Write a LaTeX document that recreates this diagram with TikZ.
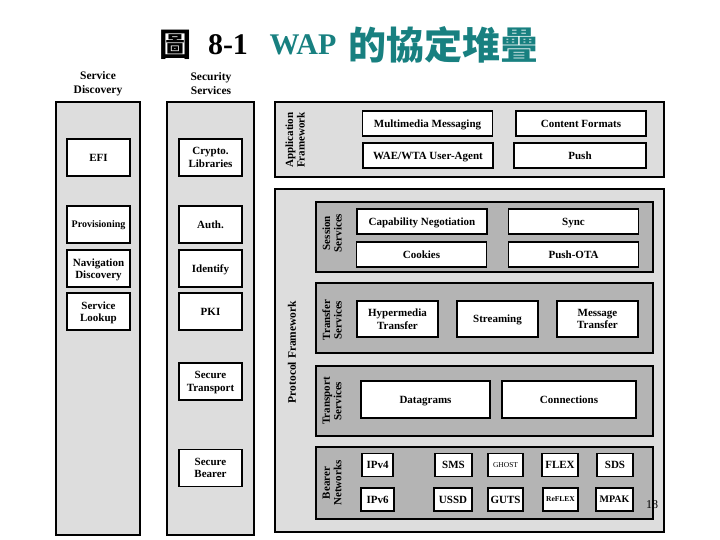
\documentclass[tikz,border=0pt]{standalone}
\usepackage{fontspec}
\setmainfont{Liberation Serif}
\newfontfamily\cjk{Noto Sans CJK TC}
\usepackage{tikz}
\usepackage{xcolor}
\usetikzlibrary{positioning}
\definecolor{panelgray}{RGB}{221,221,221}
\definecolor{layergray}{RGB}{180,180,180}
\definecolor{titleteal}{RGB}{24,128,128}
\tikzstyle{panel} = [rectangle, 
draw=black, 
line width=1.2pt, 
fill=panelgray, 
inner sep=0pt, outer sep=0pt]
\tikzstyle{layer} = [rectangle, 
draw=black, 
line width=1.2pt, 
fill=layergray, 
inner sep=0pt, outer sep=0pt]
\tikzstyle{block} = [rectangle, 
draw=black, 
line width=1.6pt, 
fill=white, 
inner sep=0pt, outer sep=0pt, 
text centered, align=center, text depth=0pt, 
font=\bfseries\fontsize{11}{12.5}\selectfont]
\tikzstyle{sidebox} = [block, minimum width=63, minimum height=37]
\tikzstyle{widebox} = [block, minimum width=130, minimum height=25]
\tikzstyle{netbox} = [block, minimum width=35, minimum height=23]
\tikzstyle{sidelabel} = [rotate=90, align=center, inner sep=0pt, 
font=\bfseries\fontsize{11}{11.5}\selectfont]
\tikzstyle{header} = [align=center, inner sep=0pt, 
font=\bfseries\fontsize{11.5}{14}\selectfont]

\begin{document}
\begin{tikzpicture}[x=1pt, y=-1pt]
        \useasboundingbox (0,0) rectangle (720,540);

        % Titulo
        \node (ttlA) at (175,45) {\cjk\bfseries\fontsize{32}{32}\selectfont 圖};
        \node (ttlB) at (228,45) {\bfseries\fontsize{30}{30}\selectfont 8-1};
        \node (ttlC) [text=titleteal] at (303,45) {\bfseries\fontsize{30}{30}\selectfont WAP};
        \node (ttlD) [text=titleteal] at (443,45) {\cjk\bfseries\fontsize{38}{38}\selectfont 的協定堆疊};

        % Columnas verticales
        \node (sdhead) [header] at (98,84) {Service\\Discovery};
        \node (sechead) [header] at (211,84) {Security\\Services};
        \node (sdcol) [panel, minimum width=84, minimum height=433] at (98,318.5) {};
        \node (seccol) [panel, minimum width=87, minimum height=433] at (210.5,318.5) {};

        \node (efi) [sidebox] at (98.5,157.5) {EFI};
        \node (prov) [sidebox, font=\bfseries\fontsize{10}{11}\selectfont] at (98.5,224.5) {Provisioning};
        \node (nav) [sidebox, below=7pt of prov] {Navigation\\Discovery};
        \node (lookup) [sidebox, below=6pt of nav] {Service\\Lookup};

        \node (crypto) [sidebox] at (210.5,157.5) {Crypto.\\Libraries};
        \node (auth) [sidebox] at (210.5,224.5) {Auth.};
        \node (ident) [sidebox, below=7pt of auth] {Identify};
        \node (pki) [sidebox, below=6pt of ident] {PKI};
        \node (sectrans) [sidebox] at (210.5,381.5) {Secure\\Transport};
        \node (secbear) [sidebox] at (210.5,468) {Secure\\Bearer};

        % Application Framework
        \node (appfw) [panel, minimum width=389, minimum height=75] at (469.5,139.5) {};
        \node (applbl) [sidelabel] at (295,140) {Application\\Framework};
        \node (mms) [widebox] at (427.5,123.5) {Multimedia Messaging};
        \node (fmt) [widebox] at (581,123.5) {Content Formats};
        \node (wae) [widebox] at (428,155.5) {WAE/WTA User-Agent};
        \node (push) [widebox, minimum width=132] at (580,155.5) {Push};

        % Protocol Framework
        \node (protofw) [panel, minimum width=389, minimum height=343] at (469.5,360.5) {};
        \node (protolbl) [sidelabel, font=\bfseries\fontsize{11.5}{12}\selectfont] at (292,352) {Protocol Framework};

        % Session Services
        \node (session) [layer, minimum width=337, minimum height=70] at (484.5,237) {};
        \node (seslbl) [sidelabel] at (332,233) {Session\\Services};
        \node (capneg) [widebox] at (422,221.5) {Capability Negotiation};
        \node (sync) [widebox] at (573.5,221.5) {Sync};
        \node (cookies) [widebox] at (421.5,254.5) {Cookies};
        \node (pushota) [widebox] at (573.5,254.5) {Push-OTA};

        % Transfer Services
        \node (transfer) [layer, minimum width=337, minimum height=70] at (484.5,318) {};
        \node (trflbl) [sidelabel] at (332,320) {Transfer\\Services};
        \node (hyper) [block, minimum width=81, minimum height=36] at (397.5,319) {Hypermedia\\Transfer};
        \node (stream) [block, minimum width=81, minimum height=36, right=19pt of hyper] {Streaming};
        \node (msgtr) [block, minimum width=81, minimum height=36, right=19pt of stream] {Message\\Transfer};

        % Transport Services
        \node (transport) [layer, minimum width=337, minimum height=70] at (484.5,401) {};
        \node (trplbl) [sidelabel] at (332,401) {Transport\\Services};
        \node (dgram) [block, minimum width=129, minimum height=37] at (425.5,399.5) {Datagrams};
        \node (conn) [block, minimum width=134, minimum height=37] at (569,399.5) {Connections};

        % Bearer Networks
        \node (bearer) [layer, minimum width=337, minimum height=72] at (484.5,483) {};
        \node (bearlbl) [sidelabel] at (332,483) {Bearer\\Networks};
        \node (ipv4) [netbox, minimum width=31] at (377.5,465) {IPv4};
        \node (sms) [netbox, minimum width=37] at (453.5,465) {SMS};
        \node (ghost) [netbox, font=\fontsize{7.5}{8}\selectfont] at (505.5,465) {GHOST};
        \node (flex) [netbox, minimum width=36] at (560,465) {FLEX};
        \node (sds) [netbox, minimum width=36] at (615,465) {SDS};
        \node (ipv6) [netbox, minimum width=33] at (377.5,499.5) {IPv6};
        \node (ussd) [netbox, minimum width=38] at (453,499.5) {USSD};
        \node (guts) [netbox] at (505.5,499.5) {GUTS};
        \node (reflex) [netbox, font=\bfseries\fontsize{7.5}{8}\selectfont] at (560.5,499.5) {ReFLEX};
        \node (mpak) [netbox, minimum width=37, font=\bfseries\fontsize{10}{11}\selectfont] at (614.5,499.5) {MPAK};

        % Numero de pagina
        \node (pagenum) [font=\fontsize{12}{12}\selectfont] at (652,505) {18};

\end{tikzpicture}
\end{document}
